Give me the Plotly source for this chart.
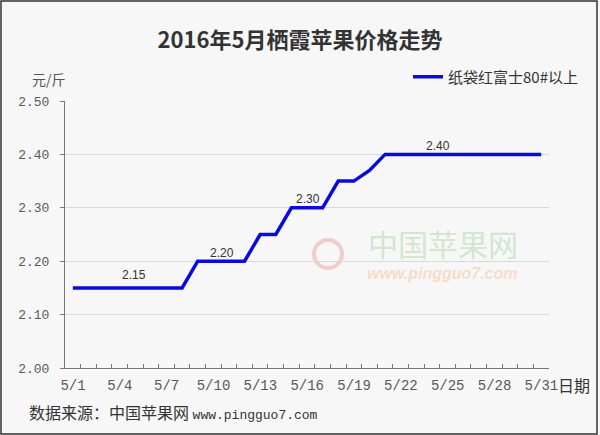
import plotly.graph_objects as go

# ---- data ----
dates = [f"5/{d}" for d in range(1, 32)]
day_index = list(range(1, 32))
prices = [2.15, 2.15, 2.15, 2.15, 2.15, 2.15, 2.15, 2.15,
          2.20, 2.20, 2.20, 2.20,
          2.25, 2.25,
          2.30, 2.30, 2.30,
          2.35, 2.35,
          2.37,
          2.40, 2.40, 2.40, 2.40, 2.40, 2.40, 2.40, 2.40, 2.40, 2.40, 2.40]
series_name = "纸袋红富士80#以上"
tick_days = [1, 4, 7, 10, 13, 16, 19, 22, 25, 28, 31]
tick_labels = [f"5/{d}" for d in tick_days]
label_x = [4.9, 10.55, 16.05, 24.4]
label_y = [2.15, 2.20, 2.30, 2.40]
label_text = ["2.15", "2.20", "2.30", "2.40"]
label_shift = [13, 8, 9, 8]
y_ticks = [2.00, 2.10, 2.20, 2.30, 2.40, 2.50]

L, R, T, B = 65, 51, 101, 67
W, H = 600, 435
PW, PH = W - L - R, H - T - B
DAY_PX = PW / 31.0


def px(x):
    return (x - L) / PW


def py(y):
    return (H - B - y) / PH


fig = go.Figure()
fig.add_trace(go.Scatter(
    x=day_index, y=prices, mode="lines", name=series_name,
    line=dict(color="#0a0ae0", width=3.5),
    hoverinfo="skip"))

annotations = []
for xv, yv, t, s in zip(label_x, label_y, label_text, label_shift):
    annotations.append(dict(x=xv, y=yv, text=t, showarrow=False, yshift=s,
                            font=dict(size=12, color="#333333", family="Liberation Sans, Arial")))

annotations += [
    dict(x=px(49), y=py(79), xref="paper", yref="paper", text="元/斤", showarrow=False,
         xanchor="center", yanchor="middle",
         font=dict(size=14, color="#555555", family="Noto Sans CJK SC")),
    dict(x=px(556), y=py(385), xref="paper", yref="paper", text="日期", showarrow=False,
         xanchor="left", yanchor="middle",
         font=dict(size=16, color="#333333", family="Noto Sans CJK SC")),
    dict(x=px(27), y=py(412), xref="paper", yref="paper",
         text="数据来源：中国苹果网 <span style='font-family:Liberation Mono;font-size:13px'>www.pingguo7.com</span>",
         showarrow=False, xanchor="left", yanchor="middle",
         font=dict(size=16, color="#333333", family="Noto Sans CJK SC")),
    dict(x=px(443), y=py(243), xref="paper", yref="paper", text="中国苹果网", showarrow=False,
         xanchor="center", yanchor="middle",
         font=dict(size=30, color="#d2e6d2", family="Noto Sans CJK SC")),
    dict(x=px(442), y=py(273), xref="paper", yref="paper", text="<b><i>www.pingguo7.com</i></b>",
         showarrow=False, xanchor="center", yanchor="middle",
         font=dict(size=16, color="#f6dccb", family="Liberation Sans")),
]

shapes = [
    dict(type="rect", xref="paper", yref="paper", x0=px(1), x1=px(597), y0=py(434), y1=py(1),
         line=dict(color="#333333", width=1.5), fillcolor="rgba(0,0,0,0)", layer="above"),
    dict(type="circle", xref="paper", yref="paper", x0=px(314), x1=px(342), y0=py(268), y1=py(240),
         line=dict(color="#f0cccc", width=4), fillcolor="rgba(0,0,0,0)", layer="below"),
]

fig.update_layout(
    width=W, height=H,
    margin=dict(l=L, r=R, t=T, b=B),
    paper_bgcolor="#f7f7f7", plot_bgcolor="#f7f7f7",
    title=dict(text="<b>2016年5月栖霞苹果价格走势</b>", x=0.5, xanchor="center",
               y=1 - 40 / H, yanchor="middle",
               font=dict(size=22, color="#333333", family="Noto Sans CJK SC")),
    showlegend=True,
    legend=dict(x=px(408), y=py(77), xanchor="left", yanchor="middle",
                bgcolor="rgba(0,0,0,0)", font=dict(size=15, color="#333333", family="Noto Sans CJK SC"),
                itemwidth=30),
    xaxis=dict(range=[0.5, 31.5], tickmode="array",
               tickvals=[d - 0.5 for d in tick_days], ticktext=tick_labels,
               ticklabelshift=int(round(DAY_PX / 2)),
               ticks="inside", ticklen=4, tickcolor="#777777",
               showgrid=False, zeroline=False,
               showline=True, linecolor="#777777", linewidth=1,
               tickfont=dict(size=14, color="#595959", family="Liberation Mono"),
               ticklabelstandoff=4,
               minor=dict(tick0=0.5, dtick=1, ticks="inside", ticklen=4, tickcolor="#777777",
                          showgrid=False)),
    yaxis=dict(range=[2.0, 2.5], tickmode="array", tickvals=y_ticks, tickformat=".2f",
               ticks="outside", ticklen=4, tickcolor="#777777",
               showgrid=True, gridcolor="#d9d9d9", gridwidth=1, zeroline=False,
               showline=True, linecolor="#777777", linewidth=1,
               tickfont=dict(size=13, color="#595959", family="Liberation Mono"),
               ticklabelstandoff=8),
    annotations=annotations,
    shapes=shapes,
)

fig.write_html("out.html", config={"displayModeBar": False},
               post_script="document.body.style.margin='0';document.body.style.padding='0';")
